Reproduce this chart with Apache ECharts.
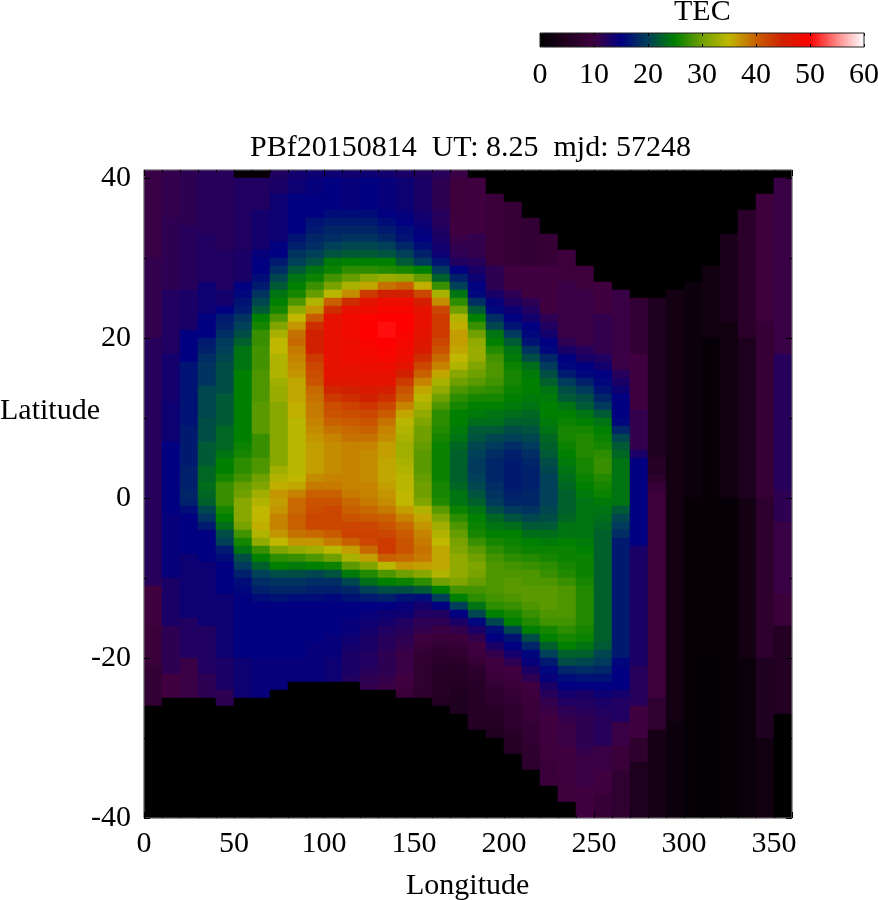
<!DOCTYPE html>
<html>
<head>
<meta charset="utf-8">
<title>TEC</title>
<script src="https://cdn.jsdelivr.net/npm/echarts@6/dist/echarts.min.js"></script>
<style>html,body{margin:0;background:#fff}#main{width:878px;height:900px}</style>
</head>
<body>
<div id="main"></div>
<script>
var lonTicks = [0, 50, 100, 150, 200, 250, 300, 350];
var latTicks = [-40, -20, 0, 20, 40];
var tecTicks = [0, 10, 20, 30, 40, 50, 60];
var paletteStops = ['#000000','#200020','#400040','#000080','#004058','#008000','#70a000','#c0b800','#c86000','#d02000','#ff0000','#ff8888','#ffffff'];

// TEC, one list per 10 degree longitude column.
// Pairs: value, last row it holds for (row 0 is the top row, row 80 the bottom one)
var tecColumns = [
[10.5,10, 11,20, 12,51, 10,56, 9,61, 8,66, 0,80],
[11,5, 11.5,14, 12.5,22, 13.5,28, 14,33, 15,42, 14.5,50, 13,56, 11.5,62, 10,65, 0,80],
[11.5,6, 12,14, 13,19, 15,23, 16.5,31, 17,36, 17.5,39, 18,40, 17.5,41, 16,42, 15,47, 14,55, 12.5,60, 10.5,65, 0,80],
[12,7, 12.5,13, 14,17, 15,20, 17,21, 17.5,22, 18.5,23, 19,26, 20.5,30, 21,33, 22,36, 23,38, 23.5,39, 23,40, 22.5,41, 20.5,42, 19,43, 17,44, 15,48, 14,56, 12.5,62, 11.5,65, 0,80],
[12,9, 12.5,14, 13.5,16, 15,17, 17,18, 17.5,19, 18.5,20, 19.5,21, 20,22, 20.5,23, 21,27, 22,31, 23,34, 24,35, 25,37, 26,38, 27.5,41, 26,42, 25,43, 23.5,44, 21,45, 20,46, 17,47, 16,48, 15,52, 14,60, 13,64, 11.5,66, 0,80],
[1,0, 12.5,9, 13,13, 15,14, 15.5,15, 16.5,16, 17,17, 19,18, 20,19, 21,20, 22.5,21, 24,24, 25,33, 25.5,34, 26,35, 27,37, 28,38, 29.5,39, 30,40, 31.5,43, 30.5,44, 28,45, 26,46, 24,47, 21,48, 19.5,49, 17.5,50, 16,51, 15.5,52, 15,60, 14,65, 0,80],
[1,0, 12.5,4, 13.5,9, 14.5,10, 15,12, 16,13, 17,14, 19,15, 20.5,16, 22,17, 25,18, 26,19, 27.5,21, 28,24, 28.5,28, 29,32, 27.5,35, 28.5,37, 30,38, 31,39, 33,40, 34,41, 35,43, 35.5,44, 34,45, 32,46, 27.5,47, 25,48, 22.5,49, 20,50, 18.5,51, 17.5,52, 16,53, 15,60, 14.5,65, 0,80],
[12.5,0, 13,2, 14,8, 15,10, 17,11, 18.5,12, 20.5,13, 22,14, 24,15, 25,16, 26,17, 28.5,18, 31,19, 33.5,20, 35,22, 34,25, 33,26, 32.5,28, 31.5,36, 33,37, 34,38, 35.5,39, 37,40, 36.5,41, 37,42, 38,44, 37,45, 35,46, 31,47, 27,48, 25,49, 21,50, 19,51, 18,52, 16.5,53, 15,60, 14.5,64, 0,80],
[13.5,0, 14,2, 15,7, 16.5,8, 17.5,9, 19,10, 20,11, 22,12, 24,13, 25,14, 26,15, 28.5,16, 32,17, 35,18, 37,19, 39,20, 39.5,21, 38.5,22, 38,23, 37.5,24, 37,25, 36,28, 35.5,30, 34.5,37, 35,38, 36,39, 38,40, 39.5,42, 40,44, 39,45, 37,46, 32,47, 27.5,48, 24.5,49, 21,50, 19,51, 18,52, 16,53, 15,60, 14.5,63, 0,80],
[14,0, 14.5,2, 15,5, 16.5,6, 17,7, 18,8, 18.5,9, 20,10, 21.5,11, 24,12, 25.5,13, 27.5,14, 29.5,15, 34,16, 37,17, 40.5,18, 44,19, 45,22, 43,23, 42,24, 41.5,25, 41,26, 39.5,27, 39,28, 38.5,30, 38,31, 37.5,32, 37,33, 36.5,37, 37.5,38, 38.5,39, 40,40, 41,41, 41.5,42, 42,44, 39.5,45, 37,46, 33,47, 28.5,48, 25,49, 20.5,50, 18.5,51, 17.5,52, 16,53, 15,58, 14.5,63, 0,80],
[14,0, 15,4, 16,5, 17,6, 18,7, 18.5,8, 20,9, 21.5,10, 24.5,11, 25.5,12, 28,13, 30.5,14, 34.5,15, 40,16, 44,17, 47,18, 47.5,23, 47,25, 46.5,26, 44.5,27, 43,28, 41.5,29, 41,30, 40,31, 39,32, 38,33, 37.5,37, 38,38, 38.5,39, 40,40, 41,41, 42,44, 40.5,45, 38.5,46, 34.5,47, 30,48, 25.5,49, 21.5,50, 18.5,51, 17.5,52, 15.5,53, 15,57, 14.5,60, 14,63, 0,80],
[13.5,0, 14.5,4, 16,5, 17,6, 18,7, 19,8, 20.5,9, 22,10, 25,11, 27,12, 29.5,13, 33.5,14, 37.5,15, 44,16, 47.5,17, 48.5,20, 48,23, 47.5,24, 47,25, 46.5,26, 45,27, 44,28, 42.5,29, 41.5,30, 40.5,31, 39.5,32, 39,33, 38,39, 38.5,40, 39.5,41, 40,42, 41,43, 42,44, 42.5,45, 40,46, 36.5,47, 33.5,48, 29,49, 24.5,50, 20.5,51, 18,52, 16.5,53, 15,55, 14.5,57, 14,58, 13.5,59, 13,62, 12.5,63, 0,80],
[14,0, 15,4, 16,5, 17,6, 18,7, 19,8, 20.5,9, 22,10, 25,11, 27,12, 31.5,13, 36,14, 43,15, 47,16, 48,17, 49.5,18, 50,20, 49.5,21, 49,22, 48.5,23, 48,24, 47.5,25, 47,26, 46,27, 45,28, 43.5,29, 42,30, 41,31, 40,32, 39,33, 38,34, 37.5,38, 38,40, 38.5,41, 39.5,42, 40.5,43, 42,44, 42.5,45, 42,46, 39.5,47, 36.5,48, 31,49, 26.5,50, 23.5,51, 20,52, 17,53, 15,54, 14.5,55, 14,56, 13.5,57, 13,59, 12.5,61, 12,62, 11.5,63, 11,64, 0,80],
[13.5,0, 14.5,4, 15,5, 16,6, 17,7, 18,8, 20,9, 21.5,10, 25,11, 26.5,12, 32.5,13, 39,14, 45,15, 48,16, 49,17, 50,18, 50.5,20, 50,21, 49.5,22, 49,23, 48,24, 47.5,25, 47,26, 45.5,27, 44,28, 42,29, 40.5,30, 39,31, 38,32, 37.5,33, 36.5,35, 36,38, 36.5,39, 37,40, 37.5,41, 38.5,42, 40,43, 41,44, 42,45, 43,47, 40,48, 34.5,49, 28.5,50, 25,51, 21,52, 17.5,53, 15,54, 14,55, 13.5,56, 12.5,57, 12,59, 11.5,62, 11,63, 10.5,64, 0,80],
[13,0, 14,4, 14.5,5, 15,6, 16,7, 16.5,8, 18,9, 20,10, 22,11, 26,12, 32,13, 40,14, 45,15, 48,16, 49,17, 50,19, 49.5,20, 49,21, 48.5,22, 48,23, 47,24, 45,25, 43,26, 41,27, 40,28, 38,29, 36,30, 34.5,31, 34,32, 33.5,33, 33,35, 33.5,36, 34,37, 34.5,39, 35,41, 36.5,42, 38,43, 39.5,44, 40.5,45, 41,47, 39.5,48, 37,49, 30,50, 25.5,51, 21,52, 16.5,53, 14.5,54, 14,55, 12.5,56, 12,57, 11.5,58, 11,59, 10.5,62, 10,63, 9.5,64, 9,65, 0,80],
[12.5,0, 13,4, 13.5,5, 14,6, 14.5,7, 15,8, 16,9, 17.5,10, 19.5,11, 25,12, 29.5,13, 35.5,14, 42,15, 45.5,16, 47,17, 47.5,19, 47,20, 46.5,21, 46,22, 44,23, 42,24, 40,25, 38,26, 36,27, 34.5,28, 33.5,29, 32,30, 31,31, 30,33, 29.5,34, 29,37, 29.5,38, 30,40, 31,41, 34,42, 36,43, 37,44, 38,45, 38.5,46, 39,47, 38.5,48, 36.5,49, 31.5,50, 27,51, 22,52, 16,53, 13.5,54, 12.5,55, 11.5,56, 11,57, 10,58, 9,59, 8,60, 7.5,64, 7,65, 0,80],
[12,0, 11.5,4, 12,6, 12.5,7, 13,8, 13.5,9, 14,10, 16.5,11, 19.5,12, 22.5,13, 27.5,14, 33.5,15, 37.5,16, 42,17, 43,20, 42,21, 41,22, 39.5,23, 38,24, 36,25, 33.5,26, 32,27, 30,28, 28.5,29, 27,31, 26.5,32, 26,33, 25.5,38, 26,40, 26.5,41, 29,42, 31,43, 33,44, 34,45, 35,46, 36,49, 34,50, 30,51, 25,52, 20,53, 15,54, 12.5,55, 11.5,56, 10.5,57, 9,58, 8,59, 7,60, 6.5,61, 6,65, 5.5,66, 0,80],
[10.5,0, 9.5,5, 10,7, 10.5,8, 11,9, 11.5,10, 12.5,11, 15,12, 17.5,13, 20,14, 24,15, 27,16, 30,17, 34,18, 35.5,19, 36.5,21, 36,22, 35,23, 34,24, 31.5,25, 30,26, 28.5,27, 27,28, 26,29, 25,31, 24.5,32, 24,33, 23,34, 22.5,38, 23,39, 24,41, 25.5,42, 27,43, 28.5,44, 29.5,45, 30.5,46, 31,47, 32,50, 31,51, 28,52, 25,53, 20,54, 15,55, 13,56, 11,57, 9.5,58, 8.5,59, 7.5,60, 6.5,61, 6,63, 5.5,64, 5,67, 0,80],
[0,0, 10,7, 11,10, 12,11, 13,12, 14,13, 15,14, 15.5,15, 18.5,16, 22,17, 25,18, 27.5,19, 30,20, 32,21, 32.5,23, 31,24, 30,25, 29,26, 27.5,27, 26,28, 25,29, 24.5,30, 23.5,31, 22,32, 21.5,33, 20.5,34, 20,35, 19.5,37, 20,38, 20.5,39, 21.5,40, 22.5,41, 24,42, 25,43, 25.5,44, 26,45, 27.5,46, 29,47, 30,48, 31,49, 30.5,50, 29.5,51, 28,52, 27,53, 24,54, 20.5,55, 15.5,56, 13,57, 11,58, 10,59, 9.5,60, 8.5,61, 7,62, 6.5,63, 6,68, 5.5,69, 0,80],
[0,2, 9,11, 11.5,14, 13,15, 14.5,16, 15.5,17, 18.5,18, 20.5,19, 24,20, 25,21, 26.5,22, 28,23, 28.5,25, 28,26, 27,27, 26,28, 25,29, 24,30, 23.5,31, 22,32, 20.5,33, 19.5,34, 18.5,35, 18,38, 18.5,39, 19,40, 19.5,41, 21,42, 23,43, 24,44, 25,45, 26,46, 27,47, 28,48, 28.5,52, 28,53, 27,54, 25,55, 20.5,56, 16,57, 15,58, 13,59, 11,60, 10,61, 9.5,62, 9,63, 8,64, 7,66, 6,68, 5.5,69, 5,70, 0,80],
[0,3, 8.5,11, 10,14, 11.5,15, 12.5,16, 14,17, 15,18, 16.5,19, 19.5,20, 22,21, 24,22, 24.5,23, 25.5,24, 26,26, 25.5,27, 25,28, 24.5,29, 23.5,30, 22.5,31, 21,32, 20,33, 18.5,34, 17.5,35, 17,39, 17.5,40, 18,41, 19.5,42, 21.5,43, 23.5,44, 25,45, 25.5,46, 26,47, 27,48, 28,49, 28.5,50, 29,52, 28.5,53, 27.5,54, 26,55, 25,56, 20.5,57, 16.5,58, 15,59, 13.5,60, 11.5,61, 10,62, 9.5,63, 9,64, 8.5,65, 8,66, 7,69, 6,72, 0,80],
[0,5, 8,11, 10,15, 11.5,16, 12.5,17, 13.5,18, 15,19, 15.5,20, 16.5,21, 19,22, 21,23, 23.5,24, 24.5,25, 25,27, 24.5,28, 24,29, 23,30, 22.5,31, 21.5,32, 20.5,33, 19.5,34, 18.5,35, 18,36, 17.5,39, 18,41, 19,42, 20.5,43, 22,44, 23.5,45, 25,46, 25.5,47, 26.5,48, 27.5,49, 28.5,51, 29,53, 28.5,54, 27.5,55, 26.5,56, 25,57, 21,58, 18,59, 15.5,60, 14.5,61, 13,62, 11.5,63, 10,64, 9.5,65, 9,68, 8,71, 7,74, 0,80],
[0,7, 8.5,11, 10,17, 11.5,18, 12.5,19, 13.5,20, 15,21, 15.5,22, 18,23, 19.5,24, 21,25, 22.5,26, 24,27, 24.5,28, 25,30, 24.5,31, 24,32, 23,33, 22.5,34, 22,35, 21,36, 20.5,37, 20,41, 20.5,42, 21,43, 22,44, 23.5,45, 24.5,46, 25.5,47, 26,48, 27,49, 27.5,50, 28.5,51, 29,54, 28.5,55, 28,56, 26,57, 25,58, 22.5,59, 20,60, 17,61, 15.5,62, 14.5,63, 13,64, 12,65, 11,66, 10.5,67, 10,70, 9.5,73, 9,76, 0,80],
[0,9, 9.5,13, 10.5,20, 11.5,21, 13,22, 15,23, 15.5,24, 17,25, 19.5,26, 21,27, 22,28, 24,29, 25,30, 25.5,31, 26,33, 25.5,34, 25,35, 24.5,36, 24,37, 23.5,38, 23,39, 22.5,42, 23,43, 24,45, 25,46, 25.5,48, 26,49, 26.5,50, 27.5,51, 28.5,55, 28,56, 27,57, 26,58, 25,59, 22.5,60, 21,61, 18,62, 16,63, 15,64, 13.5,65, 12.5,66, 11.5,67, 11,68, 10.5,71, 10,75, 9.5,78, 0,80],
[0,11, 9.5,14, 10.5,21, 12,22, 13,23, 15,24, 15.5,25, 17.5,26, 19.5,27, 21,28, 22,29, 24,30, 25,31, 26,32, 26.5,35, 26,37, 25.5,38, 25,39, 24.5,40, 24,45, 24.5,46, 25,47, 25.5,50, 26,51, 26.5,56, 26,57, 25.5,58, 24,59, 22.5,60, 20.5,61, 18.5,62, 16.5,63, 15,64, 13,65, 12.5,66, 12,67, 11.5,71, 11,72, 10.5,76, 10,80],
[0,13, 10,17, 11,22, 12.5,23, 13.5,24, 15,25, 15.5,26, 16.5,27, 18,28, 19.5,29, 22,30, 24,31, 25,32, 25.5,33, 26,34, 27,35, 27.5,37, 26.5,38, 26,39, 25.5,40, 24.5,41, 24,42, 23.5,43, 23,44, 22.5,58, 22,59, 20.5,60, 19.5,61, 18,62, 16.5,63, 15,64, 14,65, 13,66, 12.5,67, 12,71, 10.5,74, 10,77, 8.5,80],
[0,14, 10.5,24, 12,25, 13,26, 14,27, 15,30, 15.5,31, 18,32, 20.5,33, 22,34, 23,35, 24,41, 22,42, 20.5,43, 19.5,44, 18.5,45, 17,60, 15.5,61, 15,64, 13.5,65, 12.5,68, 10.5,71, 9,74, 7.5,80],
[0,15, 8,22, 10,29, 11,34, 13,35, 15,46, 13,61, 12,66, 10,70, 7,73, 4.5,80],
[0,15, 5,35, 6,37, 7,38, 8.5,39, 9.5,65, 7.5,69, 3.5,80],
[0,14, 3,68, 2,80],
[0,13, 2,40, 1,80],
[0,11, 2.5,20, 1,60, 0.5,80],
[0,7, 4,18, 2.5,40, 1,80],
[0,4, 6.5,20, 4.5,40, 3,60, 1.5,80],
[0,2, 9.5,18, 8.5,40, 7,60, 5,70, 2.5,80],
[0,0, 10.5,22, 12,39, 11.5,43, 10.5,52, 9,56, 5.5,67, 0,80]
];

var lonBins = [];
var latRows = [];
var heatData = [];
tecColumns.forEach(function (col, c) {
    lonBins.push(c * 10);
    var row = 0;
    for (var i = 0; i < col.length; i += 2) {
        for (; row <= col[i + 1]; row++) {
            heatData.push([c, row, col[i]]);
        }
    }
});
for (var r = 0; r <= 80; r++) latRows.push(r);

var font = 'Liberation Serif';
var labelSize = 30;
var tickStyle = {color: '#000', width: 1};
var textStyle = {fontFamily: font, fontSize: labelSize, fontWeight: 'normal', color: '#000'};
var noLine = {show: false, onZero: false};

var chart = echarts.init(document.getElementById('main'));
chart.setOption({
    animation: false,
    backgroundColor: '#fff',
    textStyle: {fontFamily: font},
    title: [
        {text: 'PBf20150814  UT: 8.25  mjd: 57248', left: 250, top: 133, padding: 0, textStyle: textStyle},
        {text: 'TEC', left: 674, top: -3, padding: 0, textStyle: textStyle},
        {text: 'Latitude', left: 0, top: 396, padding: 0, textStyle: textStyle},
        {text: 'Longitude', left: 406, top: 871, padding: 0, textStyle: textStyle}
    ],
    grid: [
        {left: 144, top: 170, width: 648, height: 648, show: true, z: 6, outerBoundsMode: 'none', backgroundColor: 'transparent', borderColor: '#777', borderWidth: 1},
        {left: 144, top: 178, width: 648, height: 640, z: 6, outerBoundsMode: 'none'},
        {left: 540, top: 33, width: 324, height: 14, show: true, z: 6, outerBoundsMode: 'none', backgroundColor: 'transparent', borderColor: '#222', borderWidth: 1}
    ],
    xAxis: [
        {type: 'category', gridIndex: 0, data: lonBins, show: false},
        {type: 'value', gridIndex: 1, position: 'bottom', min: 0, max: 360, interval: 50, z: 7,
            splitLine: {show: false}, axisLine: noLine,
            axisTick: {inside: true, length: 6, lineStyle: tickStyle},
            minorTick: {show: true, splitNumber: 5, length: 3, lineStyle: tickStyle},
            axisLabel: {fontFamily: font, fontSize: labelSize, color: '#000', margin: 11, customValues: lonTicks}},
        {type: 'value', gridIndex: 1, position: 'top', offset: 8, min: 0, max: 360, interval: 50, z: 7,
            splitLine: {show: false}, axisLine: noLine, axisLabel: {show: false},
            axisTick: {inside: true, length: 6, lineStyle: tickStyle},
            minorTick: {show: true, splitNumber: 5, length: 3, lineStyle: tickStyle}},
        {type: 'value', gridIndex: 2, position: 'bottom', min: 0, max: 60, interval: 10, z: 7,
            splitLine: {show: false}, axisLine: noLine,
            axisTick: {inside: true, length: 3, lineStyle: tickStyle},
            axisLabel: {fontFamily: font, fontSize: labelSize, color: '#000', margin: 13, customValues: tecTicks}},
        {type: 'value', gridIndex: 2, position: 'top', min: 0, max: 60, interval: 10, z: 7,
            splitLine: {show: false}, axisLine: noLine, axisLabel: {show: false},
            axisTick: {inside: true, length: 3, lineStyle: tickStyle}}
    ],
    yAxis: [
        {type: 'category', gridIndex: 0, data: latRows, inverse: true, show: false},
        {type: 'value', gridIndex: 1, position: 'left', min: -40, max: 40, interval: 20, z: 7,
            splitLine: {show: false}, axisLine: noLine,
            axisTick: {inside: true, length: 6, lineStyle: tickStyle},
            minorTick: {show: true, splitNumber: 2, length: 3, lineStyle: tickStyle},
            axisLabel: {fontFamily: font, fontSize: labelSize, color: '#000', margin: 13, customValues: latTicks}},
        {type: 'value', gridIndex: 1, position: 'right', min: -40, max: 40, interval: 20, z: 7,
            splitLine: {show: false}, axisLine: noLine, axisLabel: {show: false},
            axisTick: {inside: true, length: 6, lineStyle: tickStyle},
            minorTick: {show: true, splitNumber: 2, length: 3, lineStyle: tickStyle}},
        {type: 'value', gridIndex: 2, min: 0, max: 1, show: false}
    ],
    visualMap: {
        type: 'continuous', seriesIndex: 0, min: 0, max: 60, orient: 'horizontal',
        left: 540, top: 33, padding: 0, itemWidth: 14, itemHeight: 324,
        calculable: false, hoverLink: false, text: null, showLabel: false,
        inRange: {color: paletteStops}
    },
    series: [{
        type: 'heatmap',
        xAxisIndex: 0,
        yAxisIndex: 0,
        data: heatData,
        progressive: 0,
        silent: true,
        z: 2
    }]
});
</script>
</body>
</html>
